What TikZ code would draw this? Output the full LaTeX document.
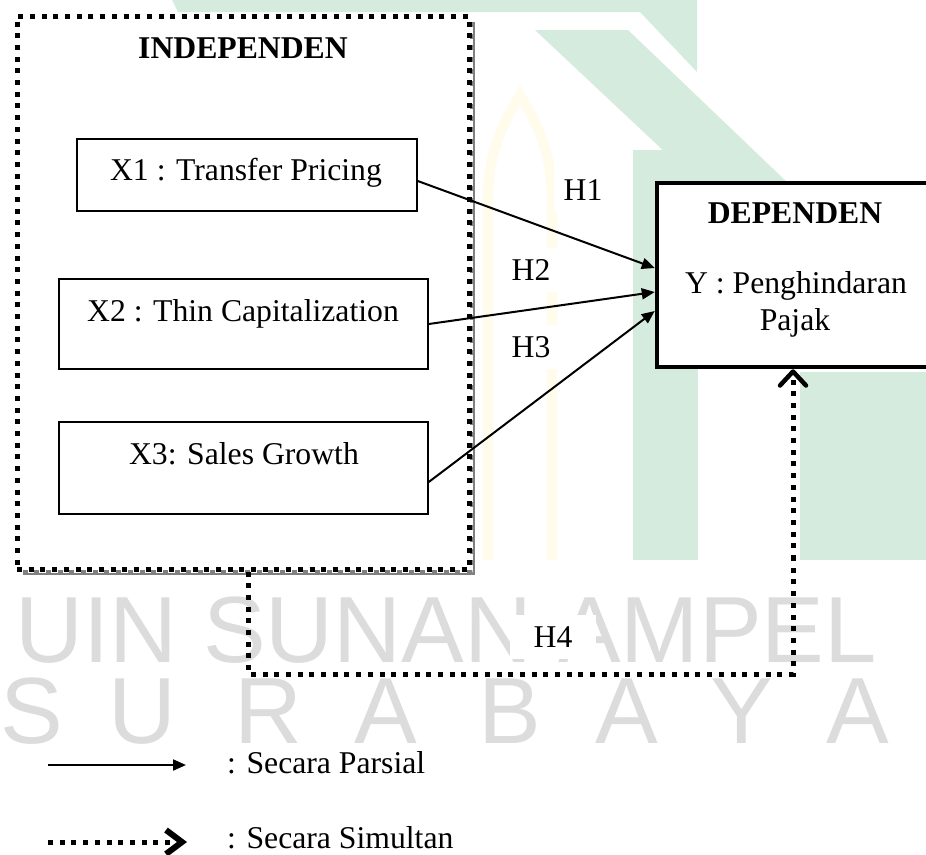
\documentclass[tikz,border=0pt]{standalone}
\usepackage{fontspec}
\setmainfont{Liberation Serif}
\newfontfamily\wmfont{Liberation Sans}
\usetikzlibrary{arrows.meta}
\definecolor{wmgreen}{RGB}{212,235,221}
\definecolor{wmgray}{RGB}{220,220,220}
\definecolor{wmyellow}{RGB}{255,252,236}
\definecolor{shadowgray}{RGB}{128,128,128}
\begin{document}
\begin{tikzpicture}[x=1pt,y=-1pt,
  txt/.style={font=\fontsize{31.7}{38}\selectfont, inner sep=0pt, anchor=base},
  btxt/.style={txt, font=\fontsize{31.7}{38}\selectfont\bfseries},
  wm/.style={font=\wmfont\fontsize{94}{94}\selectfont, text=wmgray, inner sep=0pt, anchor=base, text height=66pt, text depth=0pt},
  varbox/.style={draw, line width=1.5pt, fill=white, inner sep=0pt},
  depbox/.style={draw, line width=4.5pt, fill=white, inner sep=0pt},
  outerbox/.style={draw, line width=5pt, dash pattern=on 5pt off 6.7pt, fill=white, inner sep=0pt},
  dotline/.style={line width=5pt, dash pattern=on 5pt off 6.7pt},
  parr/.style={line width=2pt, -{Triangle[length=13pt,width=11pt]}},
  simarr/.style={dotline, -{Straight Barb[round,length=14pt,width=26pt,line width=4.5pt]}},
  hlab/.style={txt, fill=white, inner xsep=10pt, text height=22pt, text depth=2pt, inner ysep=10pt},
]
\useasboundingbox (0,0) rectangle (926,854);
\fill[white] (0,0) rectangle (926,854);

% watermark logo (faint)
\fill[wmgreen] (172,0) -- (697,0) -- (697,72) -- (640,12) -- (178,12) -- cycle;
\fill[wmgreen] (535,30) -- (628,30) -- (790,185) -- (700,185) -- cycle;
\fill[wmgreen] (633,150) -- (698,150) -- (698,560) -- (633,560) -- cycle;
\fill[wmgreen] (800,372) -- (926,372) -- (926,560) -- (800,560) -- cycle;
\draw[wmyellow, line width=10pt] (488,560) -- (488,200) .. controls (488,150) and (505,120) .. (520,95) .. controls (535,120) and (552,150) .. (552,200) -- (552,560);

% watermark text
\node[wm, anchor=base west] (wmtop) at (15,662) {UIN SUNAN AMPEL};
\node[wm] (wmS) at (32,743) {S};
\node[wm] (wmU) at (142,743) {U};
\node[wm] (wmR) at (268,743) {R};
\node[wm] (wmA) at (386,743) {A};
\node[wm] (wmB) at (510,743) {B};
\node[wm] (wmA2) at (627,743) {A};
\node[wm] (wmY) at (742,743) {Y};
\node[wm] (wmA3) at (858,743) {A};

% shadow of the independent group
\draw[shadowgray, line width=2.5pt] (474,24) -- (474,574) -- (24,574);
\draw[shadowgray, dotline] (472,22) -- (472,572) -- (22,572);

% independent group
\node[outerbox, minimum width=452pt, minimum height=553pt] (indep) at (243,292.5) {};
\node[btxt] (indeptitle) at (243,58) {INDEPENDEN};

\node[varbox, minimum width=340pt, minimum height=72pt] (x1) at (247,175) {};
\node[txt] (x1t) at (246,180) {X1 : Transfer Pricing};
\node[varbox, minimum width=369pt, minimum height=90pt] (x2) at (243.5,324) {};
\node[txt] (x2t) at (243,321) {X2 : Thin Capitalization};
\node[varbox, minimum width=369pt, minimum height=92pt] (x3) at (243.5,468) {};
\node[txt] (x3t) at (244,464) {X3: Sales Growth};

% dependent
\node[depbox, minimum width=283pt, minimum height=184pt] (dep) at (798.5,275) {};
\node[btxt] (deptitle) at (795,223) {DEPENDEN};
\node[txt] (dept1) at (796,293) {Y : Penghindaran};
\node[txt] (dept2) at (795,330) {Pajak};

% partial arrows
\draw[parr] (x1.east |- 0,181) -- (dep.west |- 0,268);
\draw[parr] (x2.east) -- (dep.west |- 0,292);
\draw[parr] (x3.east |- 0,482) -- (dep.west |- 0,311);
\node[hlab] (h1) at (583,200) {H1};
\node[hlab] (h2) at (531,280) {H2};
\node[hlab] (h3) at (531,357) {H3};

% simultaneous arrow
\coordinate (h4a) at (248,674);
\coordinate (h4b) at (793,674);
\draw[dotline] (indep.south -| h4a) -- (h4a) -- (h4b) -- (h4b |- 0,560);
\draw[simarr] (h4b |- 0,560) -- (dep.south -| h4b);
\node[hlab, inner xsep=24pt] (h4) at (553,647) {H4};

% legend
\coordinate (la1) at (48,765);
\coordinate (la2) at (186,765);
\draw[parr] (la1) -- (la2);
\node[txt, anchor=base west] (leg1) at (227,773) {: Secara Parsial};
\coordinate (lb1) at (48,842);
\coordinate (lb2) at (187,842);
\draw[dotline, -{Straight Barb[length=16pt,width=24pt,line width=6pt]}] (lb1) -- (lb2);
\node[txt, anchor=base west] (leg2) at (227,848) {: Secara Simultan};
\end{tikzpicture}
\end{document}
